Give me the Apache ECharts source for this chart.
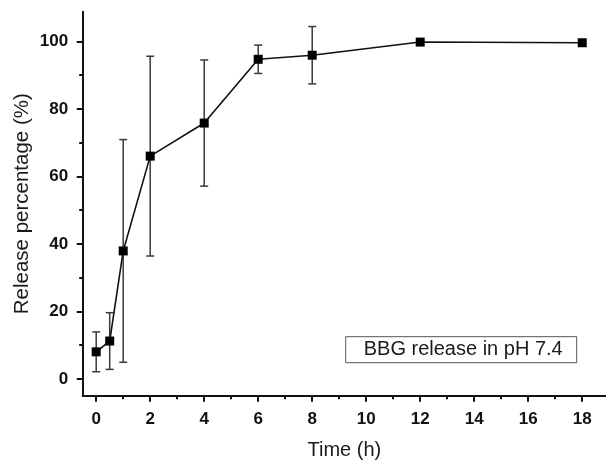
<!DOCTYPE html>
<html>
<head>
<meta charset="utf-8">
<script src="https://cdn.jsdelivr.net/npm/echarts@6/dist/echarts.min.js"></script>
<style>
html,body{margin:0;padding:0;background:#fff;}
#chart{width:606px;height:463px;}
</style>
</head>
<body>
<div id="chart"></div>
<script>
// Data
var timeH = [0, 0.5, 1, 2, 4, 6, 8, 12, 18];
var releasePct = [8.0, 11.2, 37.9, 66.0, 75.8, 94.7, 95.9, 99.8, 99.6];
var releaseSD = [5.9, 8.4, 33.0, 29.6, 18.7, 4.2, 8.5, 0, 0];
var xMajorTicks = [0, 2, 4, 6, 8, 10, 12, 14, 16, 18];
var xMinorTicks = [1, 3, 5, 7, 9, 11, 13, 15, 17];
var yMajorTicks = [0, 20, 40, 60, 80, 100];
var yMinorTicks = [10, 30, 50, 70, 90];
var seriesName = 'BBG release in pH 7.4';
var xTitle = 'Time (h)';
var yTitle = 'Release percentage (%)';

var FONT = '"Liberation Sans", Arial, sans-serif';

var lineData = timeH.map(function (t, i) { return [t, releasePct[i]]; });
var errData = timeH.map(function (t, i) {
  return [t, releasePct[i] - releaseSD[i], releasePct[i] + releaseSD[i]];
});

var chart = echarts.init(document.getElementById('chart'), null, {renderer: 'canvas'});

var axisLineStyle = {color: '#111', width: 2};

chart.setOption({
  backgroundColor: '#ffffff',
  animation: false,
  grid: {left: 82.7, top: 11.7, right: 0, bottom: 67.3, containLabel: false, outerBoundsMode: 'none'},
  legend: {
    data: [{name: seriesName, icon: 'none'}],
    left: 345.7, top: 336.7,
    itemWidth: 0, itemHeight: 0,
    padding: [3, 14, 3, 13],
    borderColor: '#555', borderWidth: 1,
    selectedMode: false,
    textStyle: {fontFamily: FONT, fontSize: 20, color: '#1a1a1a', lineHeight: 20}
  },
  xAxis: [{
    type: 'value', min: -0.5, max: 18.88,
    position: 'bottom',
    name: xTitle, nameLocation: 'middle', nameGap: 45, nameMoveOverlap: false,
    nameTextStyle: {fontFamily: FONT, fontSize: 20, color: '#1a1a1a'},
    axisLine: {show: true, onZero: false, lineStyle: axisLineStyle},
    axisTick: {show: true, inside: false, length: 6, customValues: xMajorTicks, lineStyle: {color: '#111', width: 2}},
    axisLabel: {customValues: xMajorTicks, margin: 15, fontFamily: FONT, fontSize: 17, fontWeight: 'bold', color: '#111'},
    splitLine: {show: false}
  }, {
    type: 'value', min: -0.5, max: 18.88,
    position: 'bottom',
    axisLine: {show: false, onZero: false},
    axisTick: {show: true, inside: false, length: 3.5, customValues: xMinorTicks, lineStyle: {color: '#111', width: 2}},
    axisLabel: {show: false},
    splitLine: {show: false}
  }],
  yAxis: [{
    type: 'value', min: -5, max: 108.8,
    position: 'left',
    name: yTitle, nameLocation: 'middle', nameGap: 50, nameMoveOverlap: false,
    nameTextStyle: {fontFamily: FONT, fontSize: 20.5, color: '#1a1a1a'},
    axisLine: {show: true, onZero: false, lineStyle: axisLineStyle},
    axisTick: {show: true, inside: false, length: 6, customValues: yMajorTicks, lineStyle: {color: '#111', width: 2}},
    axisLabel: {customValues: yMajorTicks, margin: 14.5, fontFamily: FONT, fontSize: 17, fontWeight: 'bold', color: '#111'},
    splitLine: {show: false}
  }, {
    type: 'value', min: -5, max: 108.8,
    position: 'left',
    axisLine: {show: false, onZero: false},
    axisTick: {show: true, inside: false, length: 3.5, customValues: yMinorTicks, lineStyle: {color: '#111', width: 2}},
    axisLabel: {show: false},
    splitLine: {show: false}
  }],
  series: [{
    type: 'custom',
    name: 'err',
    xAxisIndex: 0, yAxisIndex: 0,
    z: 1,
    silent: true,
    data: errData,
    renderItem: function (params, api) {
      var x = api.value(0), lo = api.value(1), hi = api.value(2);
      if (hi - lo <= 0) return null;
      var pLo = api.coord([x, lo]);
      var pHi = api.coord([x, hi]);
      var hw = 4;
      var style = {stroke: '#3a3a3a', lineWidth: 1.5};
      return {
        type: 'group',
        children: [
          {type: 'line', shape: {x1: pLo[0], y1: pLo[1], x2: pHi[0], y2: pHi[1]}, style: style},
          {type: 'line', shape: {x1: pLo[0] - hw, y1: pLo[1], x2: pLo[0] + hw, y2: pLo[1]}, style: style},
          {type: 'line', shape: {x1: pHi[0] - hw, y1: pHi[1], x2: pHi[0] + hw, y2: pHi[1]}, style: style}
        ]
      };
    }
  }, {
    type: 'line',
    name: seriesName,
    xAxisIndex: 0, yAxisIndex: 0,
    z: 3,
    data: lineData,
    symbol: 'rect',
    symbolSize: 9,
    showAllSymbol: true,
    itemStyle: {color: '#000'},
    lineStyle: {color: '#111', width: 1.6}
  }]
});
</script>
</body>
</html>
